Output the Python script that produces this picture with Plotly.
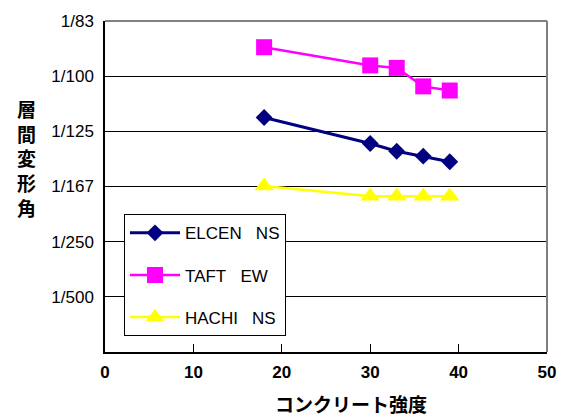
import plotly.graph_objects as go

strength = [18, 30, 33, 36, 39]
elcen_ns = [0.00850, 0.00756, 0.00728, 0.00710, 0.00690]
taft_ew = [0.01105, 0.01039, 0.01030, 0.00963, 0.00948]
hachi_ns = [0.00602, 0.00565, 0.00565, 0.00565, 0.00565]

series_names = ["ELCEN\u00a0\u00a0\u00a0NS", "TAFT\u00a0\u00a0\u00a0EW", "HACHI\u00a0\u00a0\u00a0NS"]
y_tickvals = [0.002, 0.004, 0.006, 0.008, 0.010, 0.012]
y_ticktext = ["1/500", "1/250", "1/167", "1/125", "1/100", "1/83"]
x_tickvals = [0, 10, 20, 30, 40, 50]

LATIN = "Liberation Sans, Arial, Noto Sans CJK JP"
CJK = "Noto Sans CJK JP"

fig = go.Figure()
styles = [
    (elcen_ns, "#000080", "diamond", 13, 3),
    (taft_ew, "#FF00FF", "square", 16, 2.5),
    (hachi_ns, "#FFFF00", "triangle-up", 17, 2.5),
]
for i, (vals, col, sym, sz, lw) in enumerate(styles):
    fig.add_trace(go.Scatter(
        x=strength, y=vals, mode="lines+markers", name=series_names[i],
        legendgroup=f"g{i}",
        line=dict(color=col, width=lw),
        marker=dict(symbol=sym, size=sz, color=col, line=dict(width=0)),
    ))

fig.update_layout(
    width=568, height=416,
    margin=dict(l=105, r=17, t=18, b=64),
    paper_bgcolor="white", plot_bgcolor="white",
    font=dict(family=LATIN, size=16, color="black"),
    showlegend=True,
    legend=dict(
        x=0.043, y=0.416, xanchor="left", yanchor="top",
        bgcolor="white", bordercolor="black", borderwidth=1,
        font=dict(family=LATIN, size=17, color="black"),
        itemwidth=50, tracegroupgap=17,
    ),
    xaxis=dict(
        range=[0, 50], tickvals=x_tickvals, showgrid=False, zeroline=False,
        showline=True, linecolor="black", linewidth=1.5,
        ticks="inside", ticklen=8, tickcolor="black", tickwidth=1,
        tickfont=dict(family=LATIN, size=17, color="black", weight="bold"),
        ticklabelstandoff=4,
    ),
    yaxis=dict(
        range=[0, 0.012], tickvals=y_tickvals, ticktext=y_ticktext,
        showgrid=True, gridcolor="black", gridwidth=1.3, zeroline=False,
        showline=True, linecolor="black", linewidth=1.5,
        ticks="", tickfont=dict(family=LATIN, size=17, color="black"),
        ticklabelstandoff=6,
    ),
    shapes=[
        dict(type="line", xref="x domain", yref="y domain", x0=0, x1=1, y0=1, y1=1,
             line=dict(color="#808080", width=2)),
        dict(type="line", xref="x domain", yref="y domain", x0=1, x1=1, y0=0, y1=1,
             line=dict(color="#808080", width=2)),
    ],
    annotations=[
        dict(text="コンクリート強度", xref="paper", yref="paper",
             showarrow=False, font=dict(family=CJK, size=19, color="black", weight="bold")),
        dict(text="層<br>間<br>変<br>形<br>角", xref="paper", yref="paper",
             showarrow=False, font=dict(family=CJK, size=19, color="black", weight="bold")),
    ],
)
pw, ph = 568 - 105 - 17, 416 - 18 - 64
fig.layout.annotations[0].update(x=(353 - 105) / pw, y=(352 - 404) / ph, xanchor="center", yanchor="middle")
fig.layout.annotations[1].update(x=(26 - 105) / pw, y=(352 - 156) / ph, xanchor="center", yanchor="middle")

fig.write_html("out.html")
